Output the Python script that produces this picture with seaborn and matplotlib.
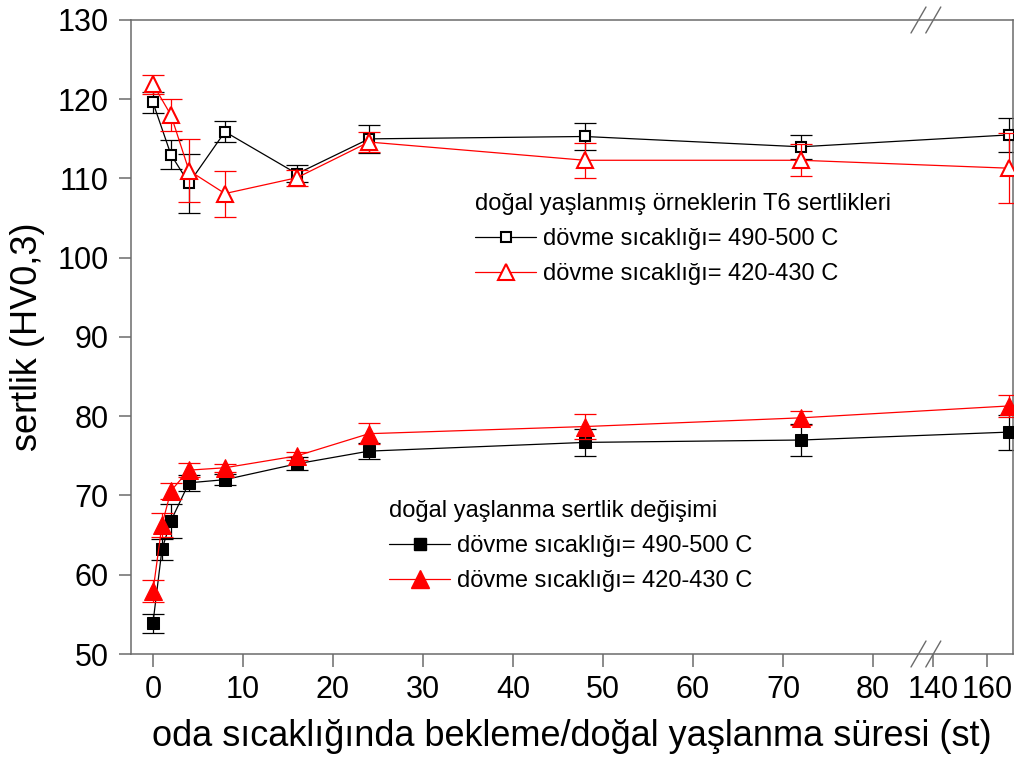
import numpy as np
import pandas as pd
import matplotlib
matplotlib.use("Agg")
import matplotlib.pyplot as plt
import seaborn as sns
from matplotlib.lines import Line2D

# ---------------- data ----------------
hours_nat = [0, 1, 2, 4, 8, 16, 24, 48, 72, 168]
hv_nat_490 = [53.9, 63.2, 66.8, 71.6, 72.0, 74.0, 75.6, 76.7, 77.0, 78.0]
err_nat_490 = [1.2, 1.3, 2.1, 1.0, 0.7, 0.8, 1.0, 1.7, 2.0, 2.2]
hv_nat_420 = [57.9, 66.3, 70.6, 73.2, 73.5, 75.0, 77.8, 78.7, 79.8, 81.3]
err_nat_420 = [1.4, 1.5, 1.0, 0.9, 0.5, 0.5, 1.3, 1.6, 0.9, 1.35]

hours_t6 = [0, 2, 4, 8, 16, 24, 48, 72, 168]
hv_t6_490 = [119.6, 113.0, 109.4, 115.9, 110.6, 115.0, 115.3, 114.0, 115.5]
err_t6_490 = [1.3, 1.8, 3.7, 1.3, 1.1, 1.8, 1.7, 1.5, 2.1]
hv_t6_420 = [121.9, 118.0, 111.0, 108.1, 110.1, 114.6, 112.3, 112.3, 111.3]
err_t6_420 = [1.2, 2.0, 4.0, 2.9, 1.0, 1.3, 2.2, 2.0, 4.4]

x_ticks = [0, 10, 20, 30, 40, 50, 60, 70, 80, 140, 160]
y_ticks = [50, 60, 70, 80, 90, 100, 110, 120, 130]

title_t6 = "doğal yaşlanmış örneklerin T6 sertlikleri"
title_nat = "doğal yaşlanma sertlik değişimi"
lab_490 = "dövme sıcaklığı= 490-500 C"
lab_420 = "dövme sıcaklığı= 420-430 C"
xlabel = "oda sıcaklığında bekleme/doğal yaşlanma süresi (st)"
ylabel = "sertlik (HV0,3)"

# ---------------- style ----------------
sns.set_theme(style="ticks")
plt.rcParams["font.family"] = ["Liberation Sans", "DejaVu Sans"]
plt.rcParams["text.color"] = "black"
plt.rcParams["axes.labelcolor"] = "black"
plt.rcParams["legend.labelcolor"] = "black"

SPINE = "#6b6b6b"
RED = "#ff0000"

W, H = 1015, 763
fig = plt.figure(figsize=(W / 100, H / 100), dpi=100)
L, R_, T, B = 131, 1013, 20, 654
ax = fig.add_axes([L / W, 1 - B / H, (R_ - L) / W, (B - T) / H])

# broken x axis as a piecewise-linear scale
B1, B2, RATIO = 85.9, 137.3, 0.3


def fwd(x):
    x = np.asarray(x, dtype=float)
    return np.where(x <= B1, x, np.where(x >= B2, B1 + (x - B2) * RATIO, B1))


def inv(y):
    y = np.asarray(y, dtype=float)
    return np.where(y <= B1, y, B2 + (y - B1) / RATIO)


ax.set_xscale("function", functions=(fwd, inv))

df_nat = pd.DataFrame({"h": hours_nat, "a": hv_nat_490, "b": hv_nat_420})
df_t6 = pd.DataFrame({"h": hours_t6, "a": hv_t6_490, "b": hv_t6_420})

eb_kw = dict(fmt="none", capsize=8, elinewidth=0.9, capthick=0.9)

# natural ageing (filled markers)
ax.errorbar(hours_nat, hv_nat_490, yerr=err_nat_490, ecolor="black", zorder=2, **eb_kw)
sns.lineplot(data=df_nat, x="h", y="a", ax=ax, color="black", lw=0.9,
             marker="s", markersize=8.5, markerfacecolor="black",
             markeredgecolor="black", estimator=None, sort=False, zorder=3)
ax.errorbar(hours_nat, hv_nat_420, yerr=err_nat_420, ecolor=RED, zorder=4, **eb_kw)
sns.lineplot(data=df_nat, x="h", y="b", ax=ax, color=RED, lw=0.9,
             marker="^", markersize=12.5, markerfacecolor=RED,
             markeredgecolor=RED, estimator=None, sort=False, zorder=5)

# T6 (open markers)
ax.errorbar(hours_t6, hv_t6_490, yerr=err_t6_490, ecolor="black", zorder=2, **eb_kw)
sns.lineplot(data=df_t6, x="h", y="a", ax=ax, color="black", lw=0.9,
             marker="s", markersize=7.5, markerfacecolor="white",
             markeredgecolor="black", markeredgewidth=1.5,
             estimator=None, sort=False, zorder=3)
ax.errorbar(hours_t6, hv_t6_420, yerr=err_t6_420, ecolor=RED, zorder=4, **eb_kw)
sns.lineplot(data=df_t6, x="h", y="b", ax=ax, color=RED, lw=0.9,
             marker="^", markersize=12, markerfacecolor="white",
             markeredgecolor=RED, markeredgewidth=1.5,
             estimator=None, sort=False, zorder=5)

# axes
ax.set_xlim(-2.44, float(inv(95.56)))
ax.set_ylim(50, 130)
ax.set_xticks(x_ticks)
ax.set_xticklabels([str(t) for t in x_ticks])
ax.set_yticks(y_ticks)
ax.set_yticklabels([str(t) for t in y_ticks])
ax.minorticks_off()
ax.tick_params(axis="both", direction="out", length=9, width=1.1, color=SPINE,
               labelsize=22, labelcolor="black")
ax.tick_params(axis="y", pad=7)
ax.tick_params(axis="x", pad=6)
for s in ax.spines.values():
    s.set_color(SPINE)
    s.set_linewidth(1.1)
    s.set_visible(True)

ax.set_xlabel(xlabel, fontsize=26, color="black")
ax.set_ylabel(ylabel, fontsize=26, color="black")
ax.xaxis.set_label_coords(0.5, -0.102)
ax.yaxis.set_label_coords(-0.098, 0.5)

# break marks "//" on top and bottom spines
for yc in (B, T):
    for xc in (918.5, 933.3):
        fig.add_artist(Line2D([(xc - 7.5) / W, (xc + 7.5) / W],
                              [1 - (yc + 13) / H, 1 - (yc - 13) / H],
                              transform=fig.transFigure, color=SPINE, lw=1.0))

# legends
leg_kw = dict(frameon=False, fontsize=17, title_fontsize=17, alignment="left",
              handlelength=2.6, handletextpad=0.3, labelspacing=0.55,
              borderpad=0, borderaxespad=0, loc="upper left", labelcolor="black")

h_t6 = [Line2D([], [], color="black", lw=0.9, marker="s", markersize=7.5,
               markerfacecolor="white", markeredgecolor="black", markeredgewidth=1.5),
        Line2D([], [], color=RED, lw=0.9, marker="^", markersize=12,
               markerfacecolor="white", markeredgecolor=RED, markeredgewidth=1.5)]
leg1 = ax.legend(h_t6, [lab_490, lab_420], title=title_t6,
                 bbox_to_anchor=(475 / W, 1 - 193 / H),
                 bbox_transform=fig.transFigure, **leg_kw)
leg1.get_title().set_color("black")
ax.add_artist(leg1)

h_nat = [Line2D([], [], color="black", lw=0.9, marker="s", markersize=8.5,
                markerfacecolor="black", markeredgecolor="black"),
         Line2D([], [], color=RED, lw=0.9, marker="^", markersize=12.5,
                markerfacecolor=RED, markeredgecolor=RED)]
leg2 = ax.legend(h_nat, [lab_490, lab_420], title=title_nat,
                 bbox_to_anchor=(389 / W, 1 - 500 / H),
                 bbox_transform=fig.transFigure, **leg_kw)
leg2.get_title().set_color("black")

fig.savefig("out.png", dpi=100)
